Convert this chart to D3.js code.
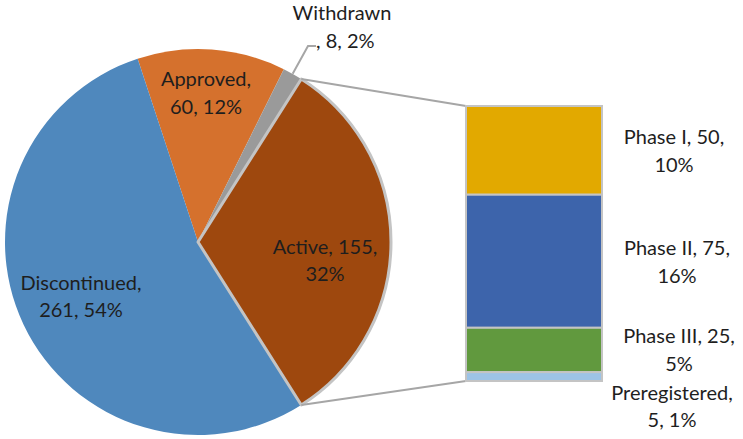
<!DOCTYPE html>
<html><head><meta charset="utf-8">
<script src="https://cdn.jsdelivr.net/npm/d3@7"></script>
<style>html,body{margin:0;padding:0;background:#fff;}svg{display:block;}</style>
</head><body>
<svg id="chart" width="743" height="439"></svg>
<script>
// Main pie data (clockwise order as drawn)
const categories = ["Approved", "Withdrawn", "Active", "Discontinued"];
const values = [60, 8, 155, 261];
const percentLabels = ["12%", "2%", "32%", "54%"];
const colors = ["#d5712d", "#9a9a9a", "#9e480e", "#4f88bd"];

// Breakdown of "Active"
const subCategories = ["Phase I", "Phase II", "Phase III", "Preregistered"];
const subValues = [50, 75, 25, 5];
const subPercentLabels = ["10%", "16%", "5%", "1%"];
const subColors = ["#e2a900", "#3d64ab", "#61993e", "#9dc3e6"];

const svg = d3.select("#chart");
const font = "Lato, 'Open Sans', sans-serif";
const fs = 20;
const textColor = "#1e1e1e";

const cx = 198, cy = 242, R = 193;
const total = d3.sum(values);
const activeIdx = 2;
const before = d3.sum(values.slice(0, activeIdx));
const start = Math.PI / 2 - (before + values[activeIdx] / 2) / total * 2 * Math.PI;

const pie = d3.pie().sort(null).value(d => d).startAngle(start).endAngle(start + 2 * Math.PI);
const arcs = pie(values);
const arc = d3.arc().innerRadius(0).outerRadius(R);

const g = svg.append("g").attr("transform", `translate(${cx},${cy})`);
g.selectAll("path.slice").data(arcs).enter().append("path")
  .attr("class", "slice")
  .attr("d", arc)
  .attr("fill", (d, i) => colors[i]);
// outline the Active slice
g.append("path").attr("d", arc(arcs[activeIdx]))
  .attr("fill", "none").attr("stroke", "#c4c4c4").attr("stroke-width", 3).attr("stroke-linejoin", "round");

const pt = a => [cx + R * Math.sin(a), cy - R * Math.cos(a)];

// bar of pie
const barX0 = 466, barX1 = 602;
const y = d3.scaleLinear().domain([0, d3.sum(subValues)]).range([106, 381]);
let cum = 0;
const stacks = subValues.map(v => { const s = { y0: cum, y1: cum + v }; cum += v; return s; });

// connector lines
const pTop = pt(arcs[activeIdx].startAngle);
const pBot = pt(arcs[activeIdx].endAngle);
svg.append("line").attr("x1", pTop[0]).attr("y1", pTop[1]).attr("x2", barX0).attr("y2", y(0))
  .attr("stroke", "#a6a6a6").attr("stroke-width", 2);
svg.append("line").attr("x1", pBot[0]).attr("y1", pBot[1]).attr("x2", barX0).attr("y2", y(d3.sum(subValues)))
  .attr("stroke", "#a6a6a6").attr("stroke-width", 2);

svg.selectAll("rect.seg").data(stacks).enter().append("rect")
  .attr("class", "seg")
  .attr("x", barX0).attr("width", barX1 - barX0)
  .attr("y", d => y(d.y0)).attr("height", d => y(d.y1) - y(d.y0))
  .attr("fill", (d, i) => subColors[i])
  .attr("stroke", "#c4c4c4").attr("stroke-width", 2);

// text helper
function label(x, lines, baselines) {
  const t = svg.append("text").attr("text-anchor", "middle")
    .attr("font-family", font).attr("font-size", fs).attr("fill", textColor);
  lines.forEach((l, i) => t.append("tspan").attr("x", x).attr("y", baselines[i]).text(l));
}

// pie labels
label(206, [categories[0] + ",", values[0] + ", " + percentLabels[0]], [86, 114]);
label(325, [categories[2] + ", " + values[2] + ",", percentLabels[2]], [254, 281]);
label(81, [categories[3] + ",", values[3] + ", " + percentLabels[3]], [290, 317]);
label(342, [categories[1]], [20]);
svg.append("text").attr("x", 316).attr("y", 48)
  .attr("font-family", font).attr("font-size", fs).attr("fill", textColor)
  .text(", " + values[1] + ", " + percentLabels[1]);
// withdrawn leader
const wMid = (arcs[1].startAngle + arcs[1].endAngle) / 2;
const wp = pt(wMid);
svg.append("polyline").attr("points", `${wp[0]},${wp[1]} 308,46 316,46`)
  .attr("fill", "none").attr("stroke", "#a6a6a6").attr("stroke-width", 2);

// bar labels
const subPos = [[674, 144, 172], [677, 255, 283], [679, 343, 371], [672, 400, 427]];
subCategories.forEach((c, i) => {
  const p = subPos[i];
  const first = i === 3 ? c + "," : c + ", " + subValues[i] + ",";
  const second = i === 3 ? subValues[i] + ", " + subPercentLabels[i] : subPercentLabels[i];
  label(p[0], [first, second], [p[1], p[2]]);
});
</script>
</body></html>
